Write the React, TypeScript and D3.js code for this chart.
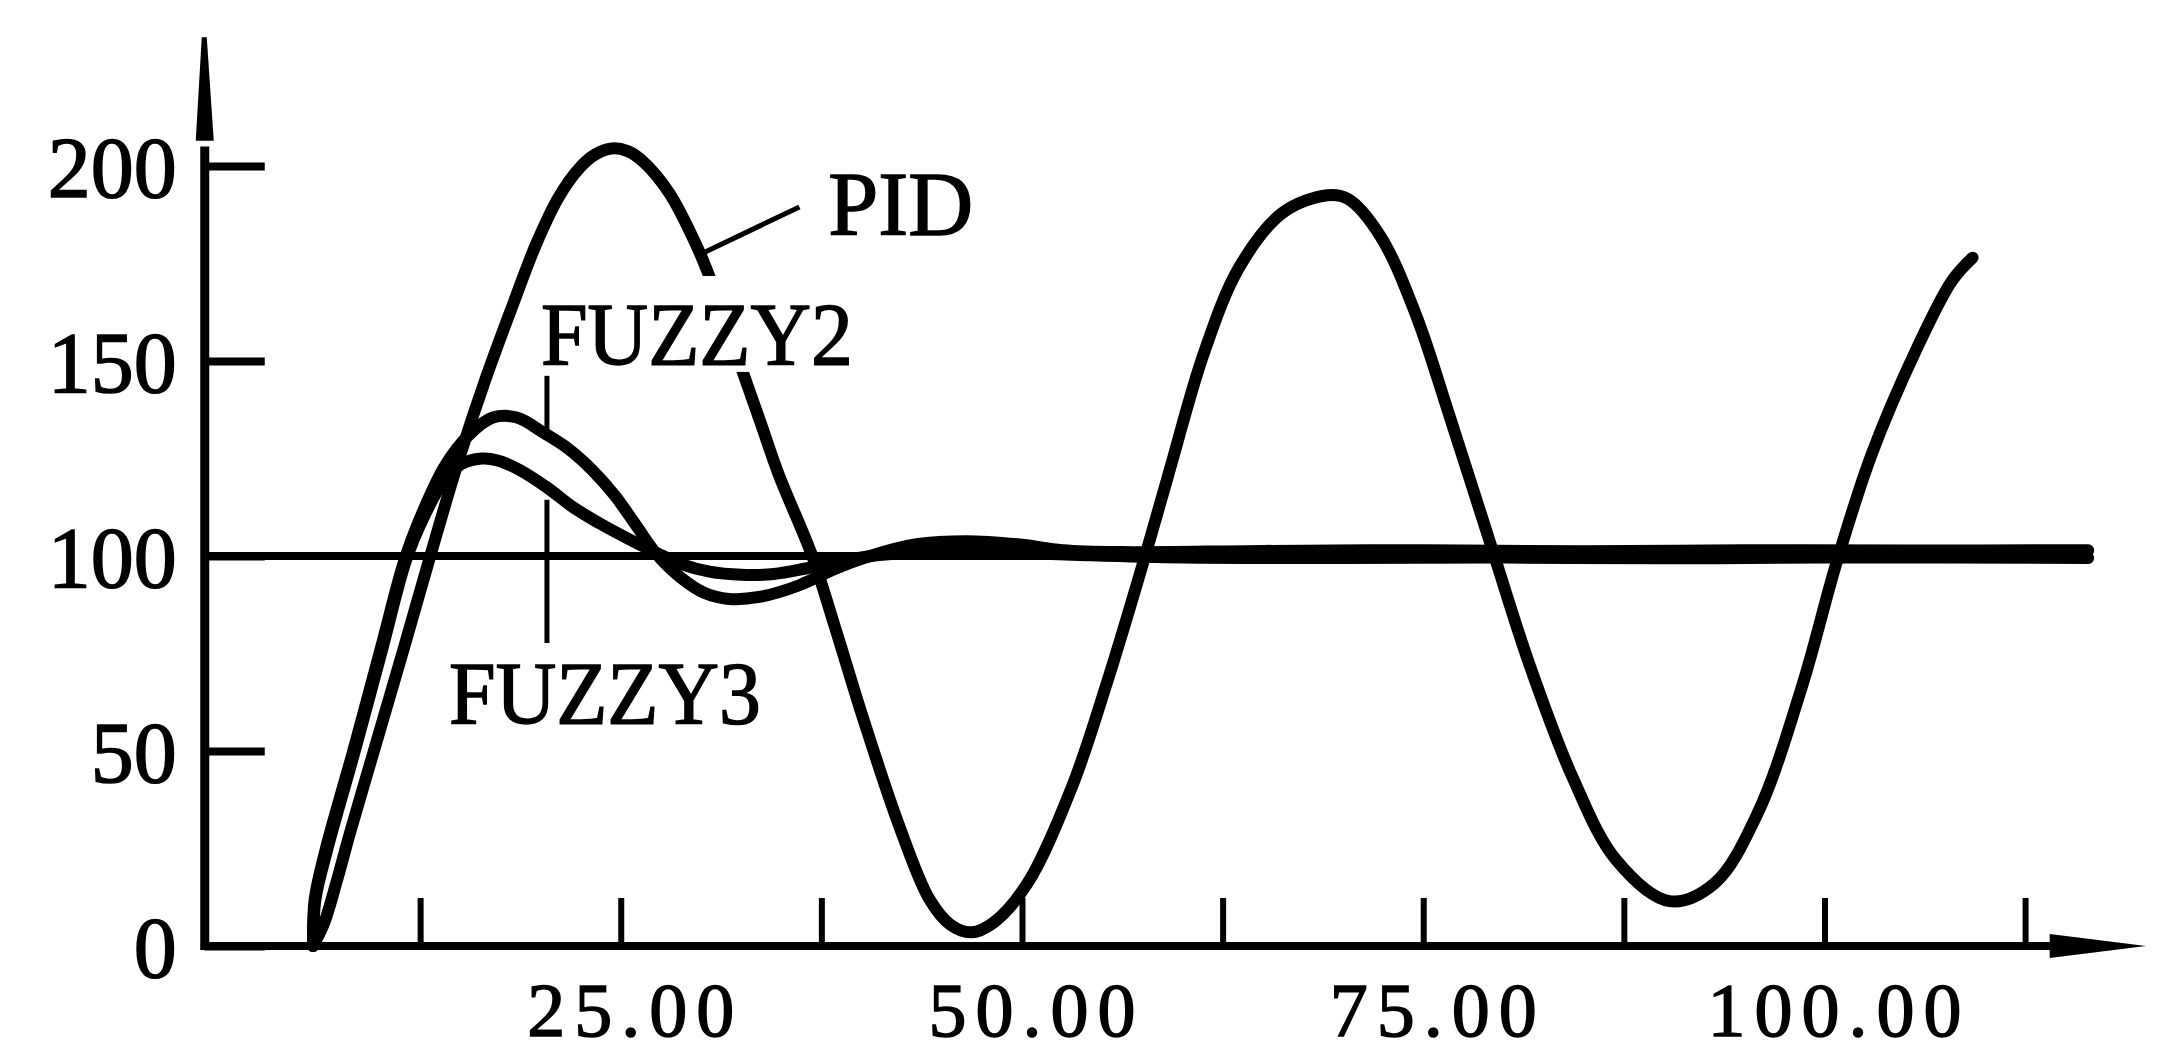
import React, { useEffect, useRef } from 'react';
import * as d3 from 'd3';

type Pt = [number, number];

// step responses: [time, output]
const pidSeries: Pt[] = [
  [5.8, 0], [6.5, 6], [7.3, 17], [8.1, 29], [9.8, 53], [11.5, 77], [13.1, 100],
  [14.9, 125], [16.6, 146], [18.3, 165], [19.7, 180], [21.1, 192], [22.4, 199.5],
  [23.4, 203], [24.4, 204.5], [25.4, 203.8], [26.4, 201], [28.0, 193], [29.7, 179.5],
  [30.6, 170.5], [32.5, 148], [33.7, 134], [34.8, 121], [36.9, 100], [38.3, 82],
  [40.1, 58], [42.3, 31], [44.2, 12], [45.5, 5.5], [46.8, 3.5], [48.2, 6],
  [50.3, 16], [53.1, 41], [55.3, 68], [57.5, 98], [59.1, 121], [61.3, 152],
  [63.5, 174], [66.2, 188], [69.0, 192.5], [70.3, 191.5], [72.3, 182], [74.5, 162],
  [76.6, 136], [79.4, 100], [81.6, 72], [84.3, 43], [87.0, 22], [90.3, 11.5],
  [93.1, 16], [95.8, 34], [98.6, 67], [100.7, 98], [102.9, 126], [105.7, 153],
  [107.9, 170.5], [109.2, 176.5],
];

const fuzzy2Series: Pt[] = [
  [5.8, 0], [5.9, 12], [6.6, 25], [8.3, 50], [10.0, 76], [11.5, 99], [12.6, 111],
  [14.0, 123], [15.5, 131], [17.0, 135.5], [18.5, 135.5], [20.2, 131.5], [21.7, 127.5],
  [23.2, 122], [24.6, 115.5], [25.9, 108], [27.2, 100.5], [28.7, 94.5], [30.2, 90.5],
  [31.7, 89], [33.6, 89.5], [36.1, 92.5], [38.2, 96.5], [40.5, 100], [43.4, 103],
  [46.5, 103.8], [49.7, 103], [52.5, 101.5], [56, 101], [65, 101.3], [75, 101.5],
  [85, 101.2], [95, 101.5], [105, 101.4], [116.4, 101.5],
];

const fuzzy3Series: Pt[] = [
  [5.8, 0], [5.95, 12], [6.7, 25], [8.4, 50], [10.1, 76], [11.6, 99], [12.7, 110],
  [13.9, 119], [15.0, 123.5], [16.3, 125], [17.3, 124.5], [18.7, 122], [20.4, 117.5],
  [22.0, 112.5], [23.6, 108.5], [25.4, 104.5], [27.2, 100.8], [28.7, 98], [30.5, 96],
  [32.5, 95.2], [34.5, 95.4], [36.5, 96.8], [38.5, 98.5], [40.6, 100], [44, 101],
  [47, 101.2], [50, 100.8], [54, 100.2], [60, 99.6], [70, 99.5], [80, 99.6],
  [90, 99.4], [100, 99.6], [116.4, 99.5],
];

const setpointValue = 100;
const setpointSpan: Pt = [-0.95, 116.4];

const yTickValues = [0, 50, 100, 150, 200];
const xTickValues = [12.5, 25, 37.5, 50, 62.5, 75, 87.5, 100, 112.5];
const xLabelValues = [25, 50, 75, 100];
const xLabelText = ['25.00', '50.00', '75.00', '100.00'];

// annotations, in data units
const pidLabel = { text: 'PID', x: 37.9, y: 182.3, leader: [[30.1, 177.7], [36.1, 189.5]] };
const fuzzy2Label = { text: 'FUZZY2', x: 20.0, y: 149.2, leader: [[20.37, 146.2], [20.37, 131.5]] };
const fuzzy3Label = { text: 'FUZZY3', x: 14.27, y: 57.2, leader: [[20.37, 77.7], [20.37, 114.4]] };

const App = () => {
  const svgRef = useRef<SVGSVGElement>(null);

  useEffect(() => {
    const svg = d3.select(svgRef.current);
    svg.selectAll('*').remove();

    const width = 2178;
    const height = 1053;
    svg.attr('width', width).attr('height', height);

    const x = d3.scaleLinear().domain([0, 112.5]).range([220, 2025.6]);
    const y = d3.scaleLinear().domain([0, 200]).range([946, 166]);
    const x0 = x(-0.95);
    const y0 = y(0);
    const font = '"Liberation Serif", "Times New Roman", serif';

    svg.append('rect').attr('width', width).attr('height', height).attr('fill', '#fff');

    // setpoint line
    svg.append('line')
      .attr('x1', x(setpointSpan[0])).attr('x2', x(setpointSpan[1]))
      .attr('y1', y(setpointValue)).attr('y2', y(setpointValue))
      .attr('stroke', '#000').attr('stroke-width', 8);

    // leaders (under the curves)
    [pidLabel, fuzzy2Label, fuzzy3Label].forEach(l => {
      svg.append('line')
        .attr('x1', x(l.leader[0][0])).attr('y1', y(l.leader[0][1]))
        .attr('x2', x(l.leader[1][0])).attr('y2', y(l.leader[1][1]))
        .attr('stroke', '#000').attr('stroke-width', 5);
    });

    const line = d3.line<Pt>()
      .x(d => x(d[0]))
      .y(d => y(d[1]))
      .curve(d3.curveCatmullRom.alpha(0.5));

    [fuzzy3Series, fuzzy2Series, pidSeries].forEach(s => {
      svg.append('path')
        .attr('d', line(s))
        .attr('fill', 'none')
        .attr('stroke', '#000')
        .attr('stroke-width', 12)
        .attr('stroke-linecap', 'round')
        .attr('stroke-linejoin', 'round');
    });

    // y axis
    const yAxis = svg.append('g')
      .attr('transform', `translate(${x0},0)`)
      .call(d3.axisLeft(y).tickValues(yTickValues).tickSizeInner(-60).tickSizeOuter(0).tickPadding(28));
    yAxis.select('.domain').remove();
    yAxis.selectAll('line').attr('stroke', '#000').attr('stroke-width', 8);
    yAxis.selectAll('text')
      .attr('dy', '0.36em')
      .style('font-family', font)
      .style('font-size', '86px')
      .style('fill', '#000')
      .style('stroke', '#000')
      .style('stroke-width', '1.5px');

    svg.append('line')
      .attr('x1', x0).attr('x2', x0)
      .attr('y1', y0 + 4).attr('y2', y(205))
      .attr('stroke', '#000').attr('stroke-width', 9);
    svg.append('path')
      .attr('d', `M${x0 - 9},${y(206.5)} L${x0 + 9},${y(206.5)} L${x0 + 2},${y(233)} L${x0 - 3},${y(233)} Z`)
      .attr('fill', '#000');

    // x axis
    svg.append('line')
      .attr('x1', x0 - 4).attr('x2', x(115))
      .attr('y1', y0).attr('y2', y0)
      .attr('stroke', '#000').attr('stroke-width', 8);
    svg.append('path')
      .attr('d', `M${x(114)},${y0 - 12} L${x(114)},${y0 + 12} L${x(120)},${y0} Z`)
      .attr('fill', '#000');

    svg.selectAll('.x-tick')
      .data(xTickValues)
      .enter()
      .append('line')
      .attr('class', 'x-tick')
      .attr('x1', d => x(d)).attr('x2', d => x(d))
      .attr('y1', y0).attr('y2', y0 - 48)
      .attr('stroke', '#000').attr('stroke-width', 6);

    svg.selectAll('.x-label')
      .data(xLabelValues)
      .enter()
      .append('text')
      .attr('class', 'x-label')
      .attr('x', d => x(d) + 14)
      .attr('y', 1036)
      .attr('text-anchor', 'middle')
      .style('font-family', font)
      .style('font-size', '76px')
      .style('letter-spacing', '9px')
      .style('stroke', '#000')
      .style('stroke-width', '1.5px')
      .text((d, i) => xLabelText[i]);

    // FUZZY2 label sits on a white box that hides the PID curve behind it
    svg.append('rect')
      .attr('x', x(19.8)).attr('y', y(171.8))
      .attr('width', x(39.75) - x(19.8)).attr('height', y(147.2) - y(171.8))
      .attr('fill', '#fff');

    svg.append('text')
      .attr('x', x(pidLabel.x)).attr('y', y(pidLabel.y))
      .style('font-family', font).style('font-size', '90px')
      .style('stroke', '#000').style('stroke-width', '1.5px')
      .text(pidLabel.text);

    [fuzzy2Label, fuzzy3Label].forEach(l => {
      svg.append('text')
        .attr('x', x(l.x)).attr('y', y(l.y))
        .attr('textLength', 312)
        .attr('lengthAdjust', 'spacingAndGlyphs')
        .style('font-family', font).style('font-size', '88px')
        .style('stroke', '#000').style('stroke-width', '1.5px')
        .text(l.text);
    });
  }, []);

  return (
    <svg ref={svgRef} style={{ position: 'absolute', left: 0, top: 0, display: 'block' }}></svg>
  );
};

export default App;
